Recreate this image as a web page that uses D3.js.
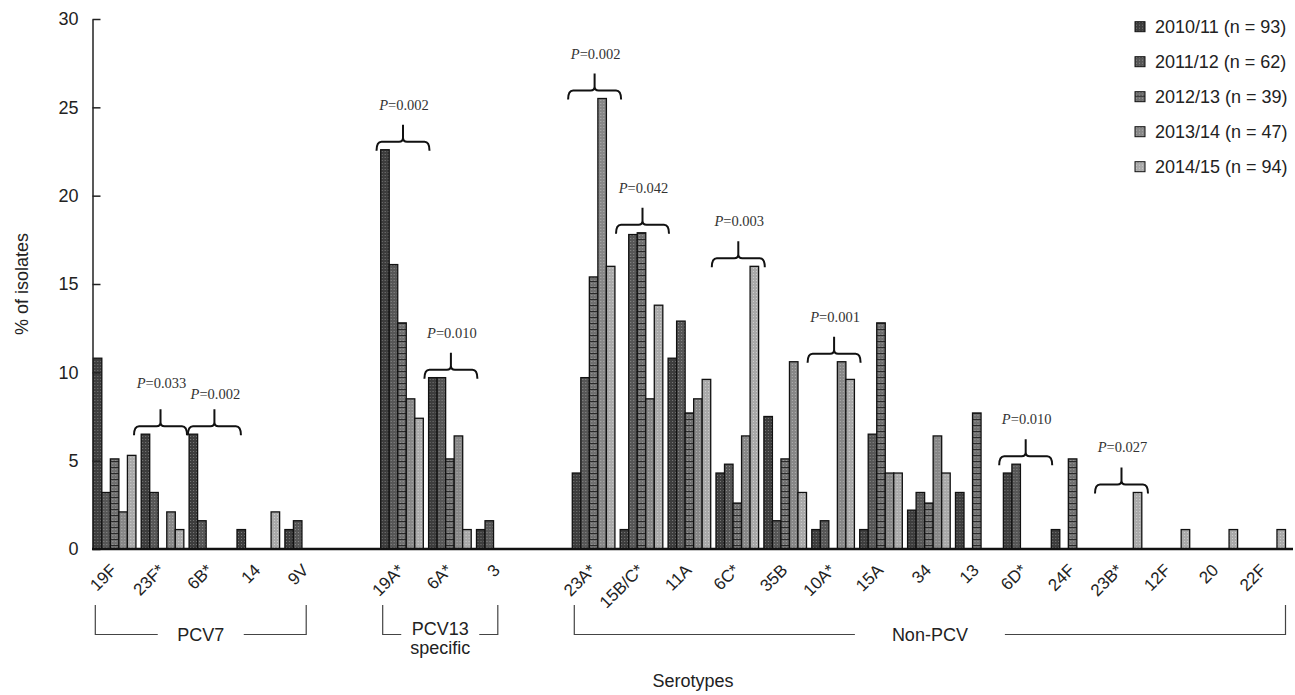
<!DOCTYPE html>
<html>
<head>
<meta charset="utf-8">
<script src="https://cdn.jsdelivr.net/npm/d3@7"></script>
<style>
  body { margin: 0; background: #fff; }
  text { font-family: "Liberation Sans", Arial, sans-serif; fill: #222; }
</style>
</head>
<body>
<svg id="chart"></svg>
<script>
// Serotype groups (order along the x axis)
const pcv7 = ["19F", "23F*", "6B*", "14", "9V"];
const pcv13 = ["19A*", "6A*", "3"];
const nonPcv = ["23A*", "15B/C*", "11A", "6C*", "35B", "10A*", "15A", "34", "13", "6D*", "24F", "23B*", "12F", "20", "22F"];
const groupLabels = [["PCV7"], ["PCV13", "specific"], ["Non-PCV"]];

// Seasons (legend)
const seasons = ["2010/11 (n = 93)", "2011/12 (n = 62)", "2012/13 (n = 39)", "2013/14 (n = 47)", "2014/15 (n = 94)"];

// % of isolates per season, same order as the serotypes above
const s2010 = [10.8, 6.5, 6.5, 1.1, 1.1, 22.6, 9.7, 1.1, 4.3, 1.1, 10.8, 4.3, 7.5, 1.1, 1.1, 2.2, 3.2, 4.3, 1.1, 0, 0, 0, 0];
const s2011 = [3.2, 3.2, 1.6, 0, 1.6, 16.1, 9.7, 1.6, 9.7, 17.8, 12.9, 4.8, 1.6, 1.6, 6.5, 3.2, 0, 4.8, 0, 0, 0, 0, 0];
const s2012 = [5.1, 0, 0, 0, 0, 12.8, 5.1, 0, 15.4, 17.9, 7.7, 2.6, 5.1, 0, 12.8, 2.6, 7.7, 0, 5.1, 0, 0, 0, 0];
const s2013 = [2.1, 2.1, 0, 0, 0, 8.5, 6.4, 0, 25.5, 8.5, 8.5, 6.4, 10.6, 10.6, 4.3, 6.4, 0, 0, 0, 0, 0, 0, 0];
const s2014 = [5.3, 1.1, 0, 2.1, 0, 7.4, 1.1, 0, 16.0, 13.8, 9.6, 16.0, 3.2, 9.6, 4.3, 4.3, 0, 0, 0, 3.2, 1.1, 1.1, 1.1];

// Significant trends
const pCategories = ["23F*", "6B*", "19A*", "6A*", "23A*", "15B/C*", "6C*", "10A*", "6D*", "23B*"];
const pValues = ["0.033", "0.002", "0.002", "0.010", "0.002", "0.042", "0.003", "0.001", "0.010", "0.027"];

const yTicks = [0, 5, 10, 15, 20, 25, 30];

const width = 1295, height = 695;
const categories = [...pcv7, ...pcv13, ...nonPcv];
const series = [s2010, s2011, s2012, s2013, s2014];
const groups = [pcv7, pcv13, nonPcv];
// an empty slot between the groups
const slots = [...pcv7, "gap1", ...pcv13, "gap2", ...nonPcv];

const svg = d3.select("#chart")
    .attr("width", width)
    .attr("height", height);

// fill textures for the seasons
const shades = [
  {base: "#3d3d3d", dot: "#7a7a7a", lines: false},
  {base: "#565656", dot: "#8c8c8c", lines: false},
  {base: "#6f6f6f", dot: "#9e9e9e", lines: true},
  {base: "#878787", dot: "#b0b0b0", lines: false},
  {base: "#a9a9a9", dot: "#cfcfcf", lines: false}
];
const defs = svg.append("defs");
shades.forEach((s, i) => {
  const p = defs.append("pattern")
      .attr("id", "pat" + i)
      .attr("patternUnits", "userSpaceOnUse")
      .attr("width", 3)
      .attr("height", 6);
  p.append("rect").attr("width", 3).attr("height", 6).attr("fill", s.base);
  p.append("rect").attr("x", 1).attr("y", 1).attr("width", 1).attr("height", 1).attr("fill", s.dot);
  p.append("rect").attr("x", 1).attr("y", 4).attr("width", 1).attr("height", 1).attr("fill", s.dot);
  if (s.lines) p.append("rect").attr("y", 5).attr("width", 3).attr("height", 1).attr("fill", "#2a2a2a");
});

// Scales
const x = d3.scaleBand()
    .domain(slots)
    .range([93.3, 1285.5])
    .paddingInner(0.11)
    .paddingOuter(0);
const xs = d3.scaleBand()
    .domain(d3.range(series.length))
    .range([0, x.bandwidth()]);
const y = d3.scaleLinear()
    .domain([0, 30])
    .range([549, 19]);

// Bars
const cat = svg.append("g")
  .selectAll("g")
  .data(categories)
  .join("g")
    .attr("transform", d => `translate(${x(d)},0)`);

cat.selectAll("rect")
  .data((d, i) => series.map((s, j) => ({j, v: s[i]})).filter(e => e.v > 0))
  .join("rect")
    .attr("x", e => xs(e.j))
    .attr("y", e => y(e.v))
    .attr("width", xs.bandwidth())
    .attr("height", e => y(0) - y(e.v))
    .attr("fill", e => `url(#pat${e.j})`)
    .attr("stroke", "#111")
    .attr("stroke-width", 1.3);

// Y axis (ticks point inwards)
const yAxis = svg.append("g")
    .attr("transform", "translate(92.5,0)")
    .call(d3.axisLeft(y).tickValues(yTicks).tickSizeInner(-8).tickSizeOuter(0).tickPadding(14));
yAxis.select(".domain").attr("stroke", "#222").attr("stroke-width", 1.5);
yAxis.selectAll(".tick line").attr("stroke", "#222").attr("stroke-width", 1.5);
yAxis.selectAll("text").attr("font-size", 18).attr("fill", "#222")
    .attr("font-family", "Liberation Sans, Arial, sans-serif");

// X axis labels (rotated)
const xAxis = svg.append("g")
    .attr("transform", `translate(0,${y(0)})`)
    .call(d3.axisBottom(x).tickValues(categories).tickSize(0));
xAxis.select(".domain").remove();
xAxis.selectAll("text")
    .attr("y", 0)
    .attr("dy", "0.35em")
    .attr("text-anchor", "end")
    .attr("transform", "translate(-1,18) rotate(-45)")
    .attr("font-size", 17)
    .attr("fill", "#222")
    .attr("font-family", "Liberation Sans, Arial, sans-serif");

// baseline
svg.append("line")
    .attr("x1", 92).attr("x2", 1293)
    .attr("y1", y(0)).attr("y2", y(0))
    .attr("stroke", "#111")
    .attr("stroke-width", 2.5);

// P-value braces
const half = 26.5;
const braces = pCategories.map((c, i) => {
  const ci = categories.indexOf(c);
  const top = d3.max(series, s => s[ci]);
  const ends = y(top) + 1;
  return {c, p: pValues[i], slot: slots.indexOf(c), cx: x(c) + x.bandwidth() / 2 + 1, ends};
});
// neighbouring braces at the same level: spread them and stagger the labels
braces.forEach((b, i) => {
  b.shift = 0;
  const next = braces[i + 1], prev = braces[i - 1];
  if (next && next.slot === b.slot + 1 && Math.abs(next.ends - b.ends) < 20) { b.shift = -6; b.cx -= 3; }
  if (prev && prev.slot === b.slot - 1 && Math.abs(prev.ends - b.ends) < 20) { b.shift = 5; b.cx += 3; }
});

const brace = svg.append("g")
  .selectAll("g")
  .data(braces)
  .join("g");

brace.append("path")
    .attr("fill", "none")
    .attr("stroke", "#111")
    .attr("stroke-width", 2)
    .attr("d", b => {
      const x0 = b.cx - half, x1 = b.cx + half, h = b.ends - 9, tip = h - 17;
      return `M${x0},${b.ends} Q${x0},${h} ${x0 + 5},${h} L${b.cx - 4},${h} Q${b.cx},${h} ${b.cx},${h - 4} L${b.cx},${tip}` +
             ` M${b.cx},${h - 4} Q${b.cx},${h} ${b.cx + 4},${h} L${x1 - 5},${h} Q${x1},${h} ${x1},${b.ends}`;
    });

const ptext = brace.append("text")
    .attr("x", b => b.cx + 1)
    .attr("y", b => b.ends - 9 - 17 - 15 + b.shift)
    .attr("text-anchor", "middle")
    .attr("font-size", 14.5)
    .style("font-family", "Liberation Serif, Times New Roman, serif")
    .style("fill", "#333");
ptext.append("tspan").attr("font-style", "italic").text("P");
ptext.append("tspan").text(b => "=" + b.p);

// Group brackets under the axis
const gapHalf = [43, 39, 75];
groups.forEach((g, i) => {
  const left = x(g[0]) + 2;
  const last = g[g.length - 1];
  const right = i === groups.length - 1 ? x(last) + x.bandwidth() : x(last) + x.bandwidth() / 2;
  const mid = (left + right) / 2;
  const top = 605, bot = 634.5;
  svg.append("path")
      .attr("fill", "none")
      .attr("stroke", "#444")
      .attr("stroke-width", 1.2)
      .attr("d", `M${left},${top} V${bot} H${mid - gapHalf[i]} M${mid + gapHalf[i]},${bot} H${right} V${top}`);
  const lines = groupLabels[i];
  svg.append("text")
      .attr("text-anchor", "middle")
      .attr("font-size", 18)
    .selectAll("tspan")
    .data(lines)
    .join("tspan")
      .attr("x", mid)
      .attr("y", (d, k) => lines.length > 1 ? 635 + k * 19 : 641)
      .text(d => d);
});

// Axis titles
svg.append("text")
    .attr("transform", "translate(28,284) rotate(-90)")
    .attr("text-anchor", "middle")
    .attr("font-size", 18)
    .text("% of isolates");

svg.append("text")
    .attr("x", 693)
    .attr("y", 687)
    .attr("text-anchor", "middle")
    .attr("font-size", 18)
    .text("Serotypes");

// Legend
const legend = svg.append("g")
  .selectAll("g")
  .data(seasons)
  .join("g")
    .attr("transform", (d, i) => `translate(1135,${26.7 + i * 35})`);
legend.append("rect")
    .attr("y", -5)
    .attr("width", 10)
    .attr("height", 10)
    .attr("fill", (d, i) => `url(#pat${i})`)
    .attr("stroke", "#111")
    .attr("stroke-width", 1);
legend.append("text")
    .attr("x", 20)
    .attr("dy", "0.35em")
    .attr("font-size", 18)
    .text(d => d);
</script>
</body>
</html>
